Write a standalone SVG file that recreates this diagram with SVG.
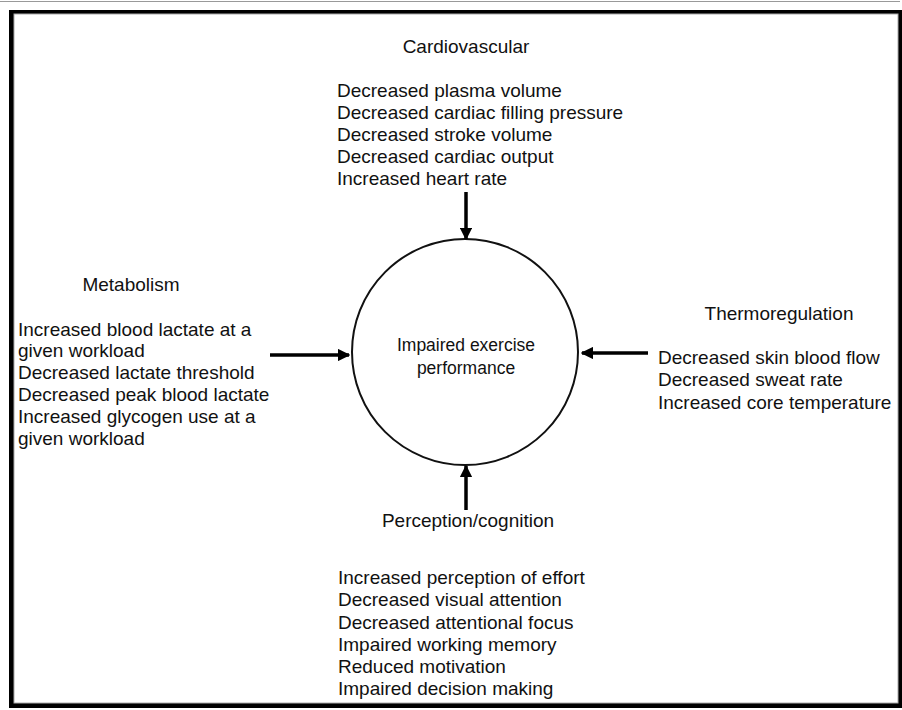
<svg xmlns="http://www.w3.org/2000/svg" width="902" height="710" viewBox="0 0 902 710">
  <style>
    text { font-family: "Liberation Sans", Arial, sans-serif; font-size: 19px; fill: #111; }
    .mid { text-anchor: middle; }
    .core { font-size: 17.5px; }
    .conn { stroke: #000; stroke-width: 3.5; fill: none; marker-end: url(#head); }
  </style>
  <defs>
    <marker id="head" viewBox="0 0 10 10" refX="9" refY="5" markerWidth="3.6" markerHeight="3.6" orient="auto" markerUnits="strokeWidth">
      <path d="M0,0 L10,5 L0,10 Z" fill="#000"/>
    </marker>
  </defs>

  <!-- page frame -->
  <rect x="0" y="0" width="902" height="710" fill="#fff"/>
  <line x1="0" y1="1.5" x2="900" y2="1.5" stroke="#999" stroke-width="1"/>
  <rect x="9" y="10" width="893" height="698" fill="#000"/>
  <rect x="14" y="14" width="884" height="689" fill="#fff" stroke="#aaa" stroke-width="1"/>

  <!-- central node -->
  <g id="performance">
    <circle cx="465" cy="352" r="113" fill="none" stroke="#111" stroke-width="2"/>
    <text class="mid core" x="466" y="351">Impaired exercise</text>
    <text class="mid core" x="466" y="374">performance</text>
  </g>

  <g id="cardiovascular">
    <text class="mid" x="466" y="53">Cardiovascular</text>
    <text x="337" y="97">Decreased plasma volume</text>
    <text x="337" y="119">Decreased cardiac filling pressure</text>
    <text x="337" y="141">Decreased stroke volume</text>
    <text x="337" y="163">Decreased cardiac output</text>
    <text x="337" y="185">Increased heart rate</text>
  </g>

  <g id="metabolism">
    <text class="mid" x="131" y="291">Metabolism</text>
    <text x="18" y="336">Increased blood lactate at a</text>
    <text x="18" y="357">given workload</text>
    <text x="18" y="379">Decreased lactate threshold</text>
    <text x="18" y="401">Decreased peak blood lactate</text>
    <text x="18" y="423">Increased glycogen use at a</text>
    <text x="18" y="445">given workload</text>
  </g>

  <g id="thermoregulation">
    <text class="mid" x="779" y="320">Thermoregulation</text>
    <text x="658" y="364">Decreased skin blood flow</text>
    <text x="658" y="386">Decreased sweat rate</text>
    <text x="658" y="409">Increased core temperature</text>
  </g>

  <g id="perception">
    <text class="mid" x="468" y="527">Perception/cognition</text>
    <text x="338" y="584">Increased perception of effort</text>
    <text x="338" y="606">Decreased visual attention</text>
    <text x="338" y="629">Decreased attentional focus</text>
    <text x="338" y="651">Impaired working memory</text>
    <text x="338" y="673">Reduced motivation</text>
    <text x="338" y="695">Impaired decision making</text>
  </g>

  <g id="connectors">
    <line class="conn" x1="466" y1="192" x2="466" y2="239"/>
    <line class="conn" x1="466" y1="510" x2="466" y2="466"/>
    <line class="conn" x1="270" y1="355" x2="349" y2="355"/>
    <line class="conn" x1="648" y1="353" x2="582" y2="353"/>
  </g>
</svg>
